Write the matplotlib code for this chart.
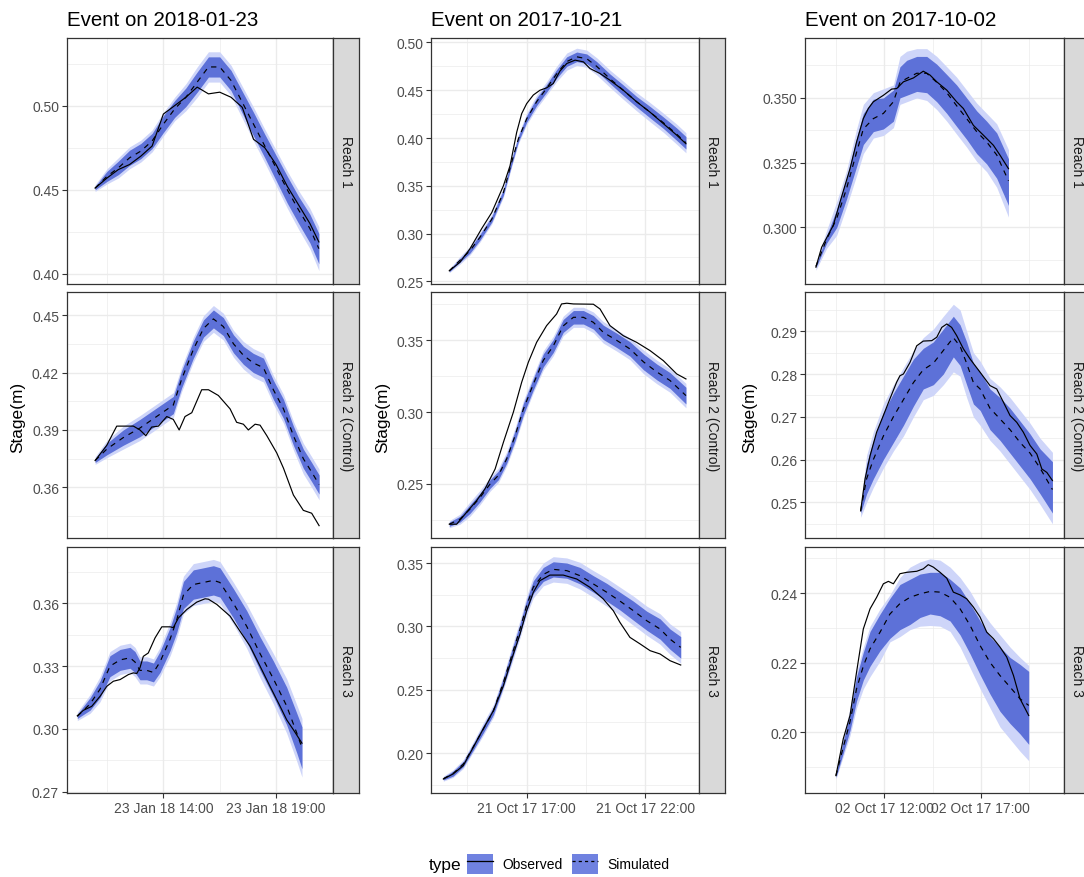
import matplotlib
matplotlib.use('Agg')
import matplotlib.pyplot as plt
import matplotlib.dates as mdates
from matplotlib.ticker import MultipleLocator, FormatStrFormatter, FixedLocator
from matplotlib.patches import Patch
from matplotlib.lines import Line2D
from matplotlib.legend_handler import HandlerTuple
import pandas as pd

plt.rcParams['font.family'] = ['Liberation Sans', 'DejaVu Sans']

# ---- event dates / facet labels ----
events = ['2018-01-23', '2017-10-21', '2017-10-02']
reaches = ['Reach 1', 'Reach 2 (Control)', 'Reach 3']
legend_labels = ['Observed', 'Simulated']

# ---- Event 2018-01-23 (times in hours of the day) ----
jan_r1_obs_h = [10.97, 11.5, 12.0, 12.5, 13.0, 13.5, 14.0, 14.5, 15.0, 15.5, 16.0, 16.5, 17.0, 17.5, 18.0, 18.5, 19.0, 19.5, 20.0, 20.5, 20.9]
jan_r1_obs = [0.451, 0.457, 0.462, 0.465, 0.470, 0.476, 0.495, 0.500, 0.505, 0.511, 0.507, 0.508, 0.505, 0.499, 0.480, 0.475, 0.465, 0.452, 0.441, 0.430, 0.419]
jan_r1_sim_h = [10.97, 11.5, 12.0, 12.5, 13.0, 13.5, 14.0, 14.5, 15.0, 15.5, 16.0, 16.5, 17.0, 17.5, 18.0, 18.5, 19.0, 19.5, 20.0, 20.5, 20.9]
jan_r1_sim = [0.451, 0.458, 0.463, 0.469, 0.473, 0.479, 0.489, 0.498, 0.505, 0.514, 0.523, 0.523, 0.515, 0.502, 0.489, 0.476, 0.463, 0.450, 0.438, 0.427, 0.415]
jan_r1_in_lo = [0.450, 0.455, 0.459, 0.4645, 0.4685, 0.4745, 0.484, 0.493, 0.4995, 0.508, 0.517, 0.517, 0.509, 0.4955, 0.482, 0.469, 0.4555, 0.442, 0.430, 0.4185, 0.406]
jan_r1_in_hi = [0.452, 0.461, 0.467, 0.4735, 0.4775, 0.4835, 0.494, 0.503, 0.5105, 0.520, 0.529, 0.529, 0.521, 0.5085, 0.496, 0.483, 0.4705, 0.458, 0.446, 0.4355, 0.424]
jan_r1_out_lo = [0.449, 0.4535, 0.457, 0.4625, 0.4665, 0.4725, 0.482, 0.491, 0.497, 0.505, 0.514, 0.514, 0.506, 0.4925, 0.479, 0.466, 0.4525, 0.439, 0.4265, 0.415, 0.402]
jan_r1_out_hi = [0.453, 0.4625, 0.469, 0.4755, 0.4795, 0.4855, 0.496, 0.505, 0.513, 0.523, 0.532, 0.532, 0.524, 0.5115, 0.499, 0.486, 0.4735, 0.461, 0.4495, 0.439, 0.428]

jan_r2_obs_h = [10.97, 11.49, 11.93, 12.67, 12.96, 13.22, 13.48, 13.78, 14.15, 14.44, 14.70, 14.96, 15.26, 15.70, 16.00, 16.44, 16.96, 17.25, 17.55, 17.77, 18.07, 18.29, 18.59, 19.03, 19.33, 19.77, 20.21, 20.58, 20.91]
jan_r2_obs = [0.374, 0.382, 0.392, 0.392, 0.390, 0.387, 0.3915, 0.392, 0.397, 0.3955, 0.390, 0.397, 0.399, 0.411, 0.411, 0.408, 0.401, 0.394, 0.393, 0.390, 0.393, 0.3925, 0.387, 0.378, 0.370, 0.356, 0.348, 0.3465, 0.340]
jan_r2_sim_h = [10.97, 11.49, 12.22, 12.96, 13.70, 14.44, 14.81, 15.33, 15.78, 16.22, 16.66, 17.11, 17.55, 17.99, 18.44, 18.88, 19.33, 19.77, 20.21, 20.58, 20.91]
jan_r2_sim = [0.374, 0.380, 0.386, 0.391, 0.397, 0.403, 0.4165, 0.432, 0.443, 0.448, 0.444, 0.435, 0.429, 0.425, 0.4225, 0.411, 0.401, 0.387, 0.375, 0.368, 0.3615]
jan_r2_in_lo = [0.373, 0.377, 0.382, 0.3865, 0.3925, 0.3985, 0.412, 0.4275, 0.4385, 0.4433, 0.4393, 0.4303, 0.4243, 0.420, 0.4175, 0.406, 0.396, 0.382, 0.370, 0.363, 0.3565]
jan_r2_in_hi = [0.375, 0.383, 0.390, 0.3955, 0.4015, 0.4075, 0.421, 0.4365, 0.4475, 0.4527, 0.4487, 0.4397, 0.4337, 0.430, 0.4275, 0.416, 0.406, 0.392, 0.380, 0.373, 0.3665]
jan_r2_out_lo = [0.372, 0.3755, 0.380, 0.3845, 0.3905, 0.3965, 0.410, 0.4255, 0.4363, 0.441, 0.437, 0.428, 0.4218, 0.4175, 0.415, 0.4035, 0.3935, 0.3795, 0.367, 0.360, 0.3535]
jan_r2_out_hi = [0.376, 0.3845, 0.392, 0.3975, 0.4035, 0.4095, 0.423, 0.4385, 0.4497, 0.455, 0.451, 0.442, 0.4362, 0.4325, 0.430, 0.4185, 0.4085, 0.3945, 0.383, 0.376, 0.3695]

jan_r3_obs_h = [10.18, 10.45, 10.82, 11.19, 11.49, 11.78, 12.08, 12.45, 12.67, 12.82, 12.96, 13.11, 13.33, 13.63, 13.93, 14.30, 14.44, 14.67, 15.04, 15.48, 15.85, 16.00, 16.37, 16.96, 17.40, 17.85, 18.29, 18.73, 19.18, 19.47, 19.77, 20.15]
jan_r3_obs = [0.3063, 0.3089, 0.3108, 0.3156, 0.3204, 0.3228, 0.3236, 0.3260, 0.3268, 0.3265, 0.3292, 0.3347, 0.3363, 0.3435, 0.3488, 0.3488, 0.3484, 0.3531, 0.3571, 0.3606, 0.3622, 0.3620, 0.3595, 0.3539, 0.3467, 0.3395, 0.3300, 0.3204, 0.3108, 0.3044, 0.2996, 0.2932]
jan_r3_sim_h = [10.18, 10.75, 11.19, 11.63, 12.08, 12.52, 12.74, 12.96, 13.26, 13.56, 13.85, 14.30, 14.59, 14.89, 15.33, 15.78, 16.22, 16.51, 17.11, 17.70, 18.29, 18.88, 19.47, 19.92, 20.15]
jan_r3_sim = [0.306, 0.312, 0.319, 0.330, 0.333, 0.334, 0.332, 0.328, 0.328, 0.327, 0.332, 0.343, 0.352, 0.364, 0.369, 0.370, 0.371, 0.370, 0.360, 0.349, 0.336, 0.324, 0.311, 0.298, 0.291]
jan_r3_in_lo = [0.305, 0.309, 0.315, 0.325, 0.328, 0.329, 0.327, 0.3235, 0.3235, 0.3225, 0.327, 0.3375, 0.346, 0.3575, 0.362, 0.363, 0.364, 0.363, 0.353, 0.3415, 0.328, 0.3155, 0.302, 0.2885, 0.281]
jan_r3_in_hi = [0.307, 0.315, 0.323, 0.335, 0.338, 0.339, 0.337, 0.3325, 0.3325, 0.3315, 0.337, 0.3485, 0.358, 0.3705, 0.376, 0.377, 0.378, 0.377, 0.367, 0.3565, 0.344, 0.3325, 0.320, 0.3075, 0.301]
jan_r3_out_lo = [0.304, 0.3075, 0.313, 0.323, 0.326, 0.327, 0.325, 0.3215, 0.3215, 0.3205, 0.325, 0.335, 0.3435, 0.355, 0.359, 0.360, 0.361, 0.360, 0.350, 0.3385, 0.3245, 0.312, 0.298, 0.2845, 0.277]
jan_r3_out_hi = [0.308, 0.3165, 0.325, 0.337, 0.340, 0.341, 0.339, 0.3345, 0.3345, 0.3335, 0.339, 0.351, 0.3605, 0.373, 0.379, 0.380, 0.381, 0.380, 0.370, 0.3595, 0.3475, 0.336, 0.324, 0.3115, 0.305]

# ---- Event 2017-10-21 ----
o21_r1_obs_h = [13.74, 14.19, 14.61, 15.10, 15.53, 16.02, 16.30, 16.58, 16.79, 17.00, 17.28, 17.56, 17.84, 18.12, 18.40, 18.69, 19.04, 19.39, 19.67, 20.09, 20.51, 21.07, 21.63, 22.20, 22.76, 23.32, 23.71]
o21_r1_obs = [0.261, 0.270, 0.284, 0.305, 0.322, 0.350, 0.371, 0.406, 0.4255, 0.436, 0.445, 0.450, 0.4525, 0.457, 0.470, 0.478, 0.4815, 0.4797, 0.4727, 0.4675, 0.4605, 0.450, 0.438, 0.427, 0.415, 0.403, 0.394]
o21_r1_sim_h = [13.74, 14.19, 14.61, 15.03, 15.53, 16.02, 16.37, 16.65, 17.00, 17.42, 17.84, 18.26, 18.69, 19.11, 19.53, 19.95, 20.51, 21.07, 21.63, 22.20, 22.76, 23.32, 23.71]
o21_r1_sim = [0.261, 0.272, 0.282, 0.296, 0.315, 0.343, 0.375, 0.399, 0.420, 0.438, 0.452, 0.467, 0.480, 0.485, 0.483, 0.475, 0.462, 0.450, 0.438, 0.427, 0.416, 0.404, 0.395]
o21_r1_in_lo = [0.260, 0.270, 0.2795, 0.293, 0.312, 0.340, 0.372, 0.396, 0.4165, 0.434, 0.448, 0.4625, 0.475, 0.480, 0.478, 0.470, 0.457, 0.4445, 0.4325, 0.421, 0.410, 0.3975, 0.3885]
o21_r1_in_hi = [0.262, 0.274, 0.2845, 0.299, 0.318, 0.346, 0.378, 0.402, 0.4235, 0.442, 0.456, 0.4715, 0.485, 0.490, 0.488, 0.480, 0.467, 0.4555, 0.4435, 0.433, 0.422, 0.4105, 0.4015]
o21_r1_out_lo = [0.259, 0.268, 0.2775, 0.291, 0.310, 0.338, 0.370, 0.394, 0.414, 0.431, 0.445, 0.459, 0.471, 0.476, 0.474, 0.466, 0.453, 0.4405, 0.4285, 0.417, 0.406, 0.3935, 0.3845]
o21_r1_out_hi = [0.263, 0.276, 0.2865, 0.301, 0.320, 0.348, 0.380, 0.404, 0.426, 0.445, 0.459, 0.475, 0.489, 0.494, 0.492, 0.484, 0.471, 0.4595, 0.4475, 0.437, 0.426, 0.4145, 0.4055]

o21_r2_obs_h = [13.74, 14.05, 14.47, 14.89, 15.24, 15.67, 16.02, 16.44, 16.79, 17.07, 17.42, 17.84, 18.26, 18.47, 18.69, 18.97, 19.81, 20.09, 20.51, 21.07, 21.63, 22.20, 22.76, 23.32, 23.71]
o21_r2_obs = [0.222, 0.222, 0.2303, 0.2384, 0.2465, 0.2604, 0.279, 0.300, 0.3208, 0.3347, 0.3486, 0.3602, 0.3683, 0.3753, 0.3758, 0.3753, 0.3751, 0.3718, 0.3602, 0.3532, 0.3486, 0.3428, 0.3358, 0.3266, 0.3231]
o21_r2_sim_h = [13.74, 14.19, 14.61, 15.03, 15.46, 15.81, 16.16, 16.51, 16.86, 17.28, 17.70, 18.12, 18.54, 18.97, 19.39, 19.81, 20.23, 20.79, 21.35, 21.92, 22.48, 23.04, 23.71]
o21_r2_sim = [0.222, 0.2255, 0.2325, 0.2405, 0.250, 0.256, 0.2675, 0.2835, 0.302, 0.3195, 0.336, 0.346, 0.360, 0.366, 0.366, 0.3625, 0.3555, 0.350, 0.344, 0.335, 0.328, 0.322, 0.3115]
o21_r2_in_lo = [0.2205, 0.2235, 0.2295, 0.2375, 0.247, 0.253, 0.2645, 0.280, 0.298, 0.3155, 0.3315, 0.3415, 0.3555, 0.3613, 0.3613, 0.3578, 0.3505, 0.345, 0.339, 0.3295, 0.3225, 0.3165, 0.3057]
o21_r2_in_hi = [0.2235, 0.2275, 0.2355, 0.2435, 0.253, 0.259, 0.2705, 0.287, 0.306, 0.3235, 0.3405, 0.3505, 0.3645, 0.3707, 0.3707, 0.3672, 0.3605, 0.355, 0.349, 0.3405, 0.3335, 0.3275, 0.3173]
o21_r2_out_lo = [0.2195, 0.222, 0.2275, 0.2355, 0.245, 0.251, 0.2625, 0.278, 0.296, 0.3135, 0.3293, 0.3392, 0.3532, 0.359, 0.359, 0.3553, 0.348, 0.3425, 0.3365, 0.3268, 0.3198, 0.3138, 0.303]
o21_r2_out_hi = [0.2245, 0.229, 0.2375, 0.2455, 0.255, 0.261, 0.2725, 0.289, 0.308, 0.3255, 0.3427, 0.3528, 0.3668, 0.373, 0.373, 0.3697, 0.363, 0.3575, 0.3515, 0.3432, 0.3362, 0.3302, 0.320]

o21_r3_obs_h = [13.49, 13.90, 14.33, 14.75, 15.17, 15.60, 16.02, 16.37, 16.72, 17.00, 17.28, 17.56, 17.98, 18.54, 19.11, 19.67, 20.23, 20.65, 20.93, 21.35, 21.78, 22.20, 22.62, 23.04, 23.49]
o21_r3_obs = [0.1797, 0.1837, 0.1903, 0.2047, 0.2192, 0.2336, 0.2533, 0.2743, 0.294, 0.3124, 0.3269, 0.3361, 0.3405, 0.3405, 0.3374, 0.3308, 0.3216, 0.3124, 0.3032, 0.2914, 0.2862, 0.2809, 0.2783, 0.2730, 0.2696]
o21_r3_sim_h = [13.49, 13.90, 14.33, 14.75, 15.17, 15.60, 16.02, 16.37, 16.72, 17.00, 17.28, 17.70, 18.12, 18.69, 19.25, 19.81, 20.37, 20.93, 21.49, 22.06, 22.62, 23.04, 23.49]
o21_r3_sim = [0.180, 0.184, 0.1915, 0.205, 0.219, 0.2335, 0.256, 0.277, 0.298, 0.3165, 0.331, 0.341, 0.345, 0.344, 0.340, 0.3335, 0.327, 0.320, 0.3125, 0.3045, 0.298, 0.290, 0.2835]
o21_r3_in_lo = [0.179, 0.182, 0.1895, 0.2025, 0.216, 0.2305, 0.2525, 0.273, 0.294, 0.312, 0.326, 0.3355, 0.339, 0.338, 0.3335, 0.327, 0.320, 0.313, 0.305, 0.297, 0.290, 0.282, 0.275]
o21_r3_in_hi = [0.181, 0.186, 0.1935, 0.2075, 0.222, 0.2365, 0.2595, 0.281, 0.302, 0.321, 0.336, 0.3465, 0.351, 0.350, 0.3465, 0.340, 0.334, 0.327, 0.320, 0.312, 0.306, 0.298, 0.292]
o21_r3_out_lo = [0.178, 0.181, 0.188, 0.201, 0.214, 0.2285, 0.2505, 0.2705, 0.291, 0.309, 0.3225, 0.332, 0.335, 0.334, 0.3295, 0.323, 0.316, 0.309, 0.301, 0.293, 0.286, 0.278, 0.271]
o21_r3_out_hi = [0.182, 0.187, 0.195, 0.209, 0.224, 0.2385, 0.2615, 0.2835, 0.305, 0.324, 0.3395, 0.350, 0.355, 0.354, 0.3505, 0.344, 0.338, 0.331, 0.324, 0.316, 0.310, 0.302, 0.296]

# ---- Event 2017-10-02 ----
o02_r1_obs_h = [8.45, 8.75, 9.35, 9.70, 10.22, 10.56, 10.91, 11.17, 11.43, 11.95, 12.38, 12.64, 12.99, 13.51, 14.02, 14.37, 14.72, 15.24, 15.75, 16.10, 16.62, 17.14, 17.66, 18.01, 18.44]
o02_r1_obs = [0.2847, 0.2924, 0.3008, 0.3098, 0.3227, 0.333, 0.342, 0.3459, 0.3485, 0.351, 0.3534, 0.3536, 0.3562, 0.3577, 0.3603, 0.3588, 0.3562, 0.353, 0.3485, 0.3459, 0.3394, 0.3356, 0.3317, 0.3278, 0.3227]
o02_r1_sim_h = [8.45, 9.01, 9.53, 10.04, 10.56, 10.91, 11.43, 11.95, 12.47, 12.81, 13.16, 13.68, 14.20, 14.72, 15.24, 15.75, 16.27, 16.79, 17.31, 17.83, 18.44]
o02_r1_sim = [0.285, 0.2955, 0.3035, 0.315, 0.329, 0.338, 0.342, 0.344, 0.3485, 0.356, 0.3575, 0.3595, 0.3595, 0.356, 0.352, 0.347, 0.342, 0.337, 0.333, 0.328, 0.318]
o02_r1_in_lo = [0.2845, 0.294, 0.300, 0.311, 0.3235, 0.332, 0.337, 0.338, 0.341, 0.350, 0.351, 0.3525, 0.352, 0.3485, 0.344, 0.339, 0.334, 0.3285, 0.3245, 0.319, 0.3085]
o02_r1_in_hi = [0.2855, 0.297, 0.307, 0.319, 0.3345, 0.344, 0.3495, 0.350, 0.353, 0.362, 0.3645, 0.366, 0.366, 0.363, 0.359, 0.355, 0.350, 0.345, 0.341, 0.3365, 0.3265]
o02_r1_out_lo = [0.2835, 0.292, 0.297, 0.308, 0.320, 0.3285, 0.3345, 0.3355, 0.3385, 0.3475, 0.3485, 0.350, 0.349, 0.3455, 0.341, 0.336, 0.331, 0.3255, 0.3215, 0.3155, 0.304]
o02_r1_out_hi = [0.2865, 0.299, 0.310, 0.322, 0.338, 0.3475, 0.352, 0.3535, 0.355, 0.366, 0.368, 0.369, 0.369, 0.366, 0.362, 0.358, 0.353, 0.348, 0.344, 0.340, 0.330]

o02_r2_obs_h = [10.77, 11.00, 11.26, 11.60, 11.95, 12.29, 12.64, 12.81, 12.99, 13.33, 13.68, 14.02, 14.46, 14.72, 14.98, 15.24, 15.49, 15.75, 16.10, 16.45, 16.97, 17.48, 17.83, 18.18, 18.52, 18.87, 19.21, 19.56, 19.91, 20.17, 20.43, 20.72]
o02_r2_obs = [0.248, 0.2555, 0.2609, 0.2664, 0.2703, 0.2742, 0.2781, 0.2796, 0.280, 0.2827, 0.2866, 0.2877, 0.2878, 0.2886, 0.2909, 0.2917, 0.2909, 0.289, 0.2859, 0.2835, 0.2804, 0.2773, 0.2765, 0.2734, 0.2703, 0.2687, 0.2664, 0.2633, 0.2613, 0.2578, 0.257, 0.2551]
o02_r2_sim_h = [10.77, 11.08, 11.43, 11.95, 12.47, 12.99, 13.51, 14.02, 14.54, 15.06, 15.58, 15.93, 16.27, 16.62, 16.97, 17.48, 18.00, 18.52, 19.04, 19.56, 20.08, 20.72]
o02_r2_sim = [0.248, 0.2555, 0.260, 0.2655, 0.270, 0.274, 0.278, 0.281, 0.2825, 0.2855, 0.2885, 0.2865, 0.2825, 0.278, 0.2765, 0.272, 0.2695, 0.267, 0.264, 0.2615, 0.258, 0.253]
o02_r2_in_lo = [0.2475, 0.252, 0.2555, 0.260, 0.264, 0.268, 0.2725, 0.2765, 0.2775, 0.280, 0.284, 0.282, 0.2775, 0.273, 0.2715, 0.267, 0.2645, 0.2615, 0.2585, 0.2555, 0.252, 0.2475]
o02_r2_in_hi = [0.2485, 0.259, 0.2645, 0.271, 0.2755, 0.2795, 0.2835, 0.286, 0.2875, 0.2905, 0.2935, 0.2915, 0.2875, 0.2825, 0.2805, 0.2765, 0.2745, 0.272, 0.269, 0.266, 0.2625, 0.2595]
o02_r2_out_lo = [0.2465, 0.250, 0.2535, 0.258, 0.262, 0.2655, 0.270, 0.274, 0.275, 0.2775, 0.2805, 0.2795, 0.2745, 0.270, 0.268, 0.2645, 0.262, 0.259, 0.256, 0.253, 0.2495, 0.245]
o02_r2_out_hi = [0.2495, 0.261, 0.2665, 0.273, 0.2775, 0.2815, 0.2855, 0.2885, 0.2905, 0.2935, 0.2963, 0.295, 0.290, 0.285, 0.283, 0.279, 0.277, 0.2745, 0.2715, 0.2685, 0.265, 0.2617]

o02_r3_obs_h = [9.49, 9.87, 10.22, 10.56, 10.91, 11.26, 11.60, 11.95, 12.21, 12.47, 12.81, 13.16, 13.68, 14.02, 14.28, 14.54, 14.89, 15.24, 15.58, 15.93, 16.27, 16.62, 16.97, 17.31, 17.66, 18.00, 18.35, 18.70, 19.04, 19.49]
o02_r3_obs = [0.1875, 0.1981, 0.2048, 0.2173, 0.2297, 0.2355, 0.2388, 0.2427, 0.2434, 0.2427, 0.2456, 0.246, 0.2463, 0.247, 0.2482, 0.2475, 0.246, 0.2443, 0.2403, 0.2395, 0.2384, 0.236, 0.2331, 0.2288, 0.2269, 0.2245, 0.2216, 0.2163, 0.2096, 0.2048]
o02_r3_sim_h = [9.49, 9.87, 10.22, 10.56, 10.91, 11.26, 11.78, 12.29, 12.81, 13.33, 13.85, 14.37, 14.89, 15.41, 15.93, 16.45, 16.97, 17.48, 18.00, 18.52, 19.04, 19.49]
o02_r3_sim = [0.1875, 0.1957, 0.203, 0.2125, 0.219, 0.224, 0.2288, 0.234, 0.237, 0.2388, 0.2398, 0.2405, 0.2403, 0.2388, 0.2355, 0.2307, 0.2249, 0.2201, 0.2163, 0.213, 0.2096, 0.2077]
o02_r3_in_lo = [0.187, 0.194, 0.2005, 0.209, 0.215, 0.219, 0.2235, 0.227, 0.2295, 0.231, 0.233, 0.234, 0.2335, 0.232, 0.228, 0.2225, 0.2165, 0.211, 0.206, 0.2025, 0.1995, 0.1965]
o02_r3_in_hi = [0.188, 0.1975, 0.2055, 0.216, 0.223, 0.229, 0.234, 0.2385, 0.2425, 0.244, 0.2455, 0.246, 0.246, 0.244, 0.2415, 0.237, 0.232, 0.2275, 0.2245, 0.2215, 0.2195, 0.2175]
o02_r3_out_lo = [0.1865, 0.193, 0.199, 0.207, 0.2125, 0.216, 0.2205, 0.226, 0.2275, 0.2295, 0.2305, 0.2307, 0.2305, 0.229, 0.2245, 0.2185, 0.2125, 0.207, 0.2015, 0.198, 0.1945, 0.1918]
o02_r3_out_hi = [0.1885, 0.1985, 0.207, 0.2175, 0.2245, 0.2305, 0.2355, 0.2395, 0.2445, 0.2475, 0.249, 0.2499, 0.2495, 0.2475, 0.2445, 0.2405, 0.2355, 0.2315, 0.228, 0.2245, 0.2215, 0.2192]

# axis breaks (hours) and limits
x_break_h = [[14, 19], [17, 22], [12, 17]]
x_lim_h = [(9.71, 21.54), (12.97, 24.26), (7.885, 21.32)]
y_lims = [[(0.394, 0.5405), (0.3334, 0.4619), (0.2694, 0.3868)],
          [(0.2472, 0.5052), (0.2122, 0.3834), (0.1687, 0.3624)],
          [(0.2782, 0.3733), (0.2416, 0.2991), (0.1825, 0.2532)]]
y_steps = [[0.05, 0.03, 0.03], [0.05, 0.05, 0.05], [0.025, 0.01, 0.02]]
y_fmts = [['%.2f', '%.2f', '%.2f'], ['%.2f', '%.2f', '%.2f'], ['%.3f', '%.2f', '%.2f']]

panels = [
    [(jan_r1_obs_h, jan_r1_obs, jan_r1_sim_h, jan_r1_sim, jan_r1_in_lo, jan_r1_in_hi, jan_r1_out_lo, jan_r1_out_hi),
     (jan_r2_obs_h, jan_r2_obs, jan_r2_sim_h, jan_r2_sim, jan_r2_in_lo, jan_r2_in_hi, jan_r2_out_lo, jan_r2_out_hi),
     (jan_r3_obs_h, jan_r3_obs, jan_r3_sim_h, jan_r3_sim, jan_r3_in_lo, jan_r3_in_hi, jan_r3_out_lo, jan_r3_out_hi)],
    [(o21_r1_obs_h, o21_r1_obs, o21_r1_sim_h, o21_r1_sim, o21_r1_in_lo, o21_r1_in_hi, o21_r1_out_lo, o21_r1_out_hi),
     (o21_r2_obs_h, o21_r2_obs, o21_r2_sim_h, o21_r2_sim, o21_r2_in_lo, o21_r2_in_hi, o21_r2_out_lo, o21_r2_out_hi),
     (o21_r3_obs_h, o21_r3_obs, o21_r3_sim_h, o21_r3_sim, o21_r3_in_lo, o21_r3_in_hi, o21_r3_out_lo, o21_r3_out_hi)],
    [(o02_r1_obs_h, o02_r1_obs, o02_r1_sim_h, o02_r1_sim, o02_r1_in_lo, o02_r1_in_hi, o02_r1_out_lo, o02_r1_out_hi),
     (o02_r2_obs_h, o02_r2_obs, o02_r2_sim_h, o02_r2_sim, o02_r2_in_lo, o02_r2_in_hi, o02_r2_out_lo, o02_r2_out_hi),
     (o02_r3_obs_h, o02_r3_obs, o02_r3_sim_h, o02_r3_sim, o02_r3_in_lo, o02_r3_in_hi, o02_r3_out_lo, o02_r3_out_hi)],
]

DARK = '#5D71D8'
LIGHT = '#CED5F9'
KEY = '#7082E0'

W, H = 1084, 878
fig = plt.figure(figsize=(W / 100, H / 100), dpi=100)


def px_axes(x0, y0, x1, y1):
    return fig.add_axes([x0 / W, 1 - y1 / H, (x1 - x0) / W, (y1 - y0) / H])


def to_time(day, hours):
    return (pd.Timestamp(day) + pd.to_timedelta(hours, unit='h')).to_numpy()


col_x = [(66.7, 333.3), (431, 699), (805, 1064)]
row_y = [(38.5, 285), (293.3, 539.3), (548.3, 794)]
strip_w = 26

for c, day in enumerate(events):
    x0, x1 = col_x[c]
    xmin = mdates.date2num(pd.Timestamp(day) + pd.Timedelta(hours=x_lim_h[c][0]))
    xmax = mdates.date2num(pd.Timestamp(day) + pd.Timedelta(hours=x_lim_h[c][1]))
    major = [mdates.date2num(pd.Timestamp(day) + pd.Timedelta(hours=h)) for h in x_break_h[c]]
    step = major[1] - major[0]
    minor = [major[0] - step / 2, major[0] + step / 2, major[1] + step / 2]

    for r in range(3):
        y0, y1 = row_y[r]
        ax = px_axes(x0, y0, x1, y1)
        obs_h, obs, sim_h, sim, in_lo, in_hi, out_lo, out_hi = panels[c][r]
        ts = to_time(day, sim_h)
        to = to_time(day, obs_h)
        ax.fill_between(ts, out_lo, out_hi, color=LIGHT, lw=0)
        ax.fill_between(ts, in_lo, in_hi, color=DARK, lw=0)
        ax.plot(to, obs, color='black', lw=0.85)
        ax.plot(ts, sim, color='black', lw=0.85, ls=(0, (4.5, 4.5)))

        ax.set_xlim(xmin, xmax)
        ax.set_ylim(y_lims[c][r])
        ax.xaxis.set_major_locator(FixedLocator(major))
        ax.xaxis.set_minor_locator(FixedLocator(minor))
        ax.xaxis.set_major_formatter(mdates.DateFormatter('%d %b %y %H:%M'))
        ax.yaxis.set_major_locator(MultipleLocator(y_steps[c][r]))
        ax.yaxis.set_minor_locator(MultipleLocator(y_steps[c][r] / 2))
        ax.yaxis.set_major_formatter(FormatStrFormatter(y_fmts[c][r]))
        ax.set_axisbelow(True)
        ax.grid(which='major', color='#EBEBEB', lw=1.0)
        ax.grid(which='minor', color='#EBEBEB', lw=0.5)
        ax.tick_params(which='minor', length=0)
        ax.tick_params(which='major', length=3.5, width=0.8, color='#333333',
                       labelcolor='#4D4D4D', labelsize=10, pad=2)
        if r < 2:
            ax.tick_params(axis='x', which='both', bottom=False, labelbottom=False)
        for s in ax.spines.values():
            s.set_color('#333333')
            s.set_linewidth(0.9)

        # facet strip on the right
        sx = px_axes(x1, y0, x1 + strip_w, y1)
        sx.set_facecolor('#D9D9D9')
        sx.set_xticks([])
        sx.set_yticks([])
        for s in sx.spines.values():
            s.set_color('#333333')
            s.set_linewidth(0.9)
        sx.text(0.5, 0.5, reaches[r], rotation=270, ha='center', va='center',
                transform=sx.transAxes, fontsize=10, color='#1A1A1A')

    fig.text(x0 / W, 1 - 26.5 / H, 'Event on ' + day, fontsize=14.8, ha='left', va='baseline')

for xl in [18, 383, 750]:
    fig.text(xl / W, 1 - 417 / H, 'Stage(m)', rotation=90, ha='center', va='center', fontsize=12.4)

# legend at the bottom
fig.text(429 / W, 1 - 866 / H, 'type', fontsize=12.4, ha='left', va='center')
handles = [(Patch(facecolor=KEY, edgecolor='none'), Line2D([], [], color='black', lw=0.9)),
           (Patch(facecolor=KEY, edgecolor='none'), Line2D([], [], color='black', lw=0.9, ls=(0, (2.5, 2.5))))]
fig.legend(handles, legend_labels, ncol=2, loc='center left', bbox_to_anchor=(467 / W, 1 - 865 / H),
           frameon=False, borderpad=0, borderaxespad=0, handlelength=1.87, handleheight=1.8,
           handletextpad=0.7, columnspacing=0.65, fontsize=10,
           handler_map={tuple: HandlerTuple(ndivide=1)})

fig.savefig('out.png', dpi=100)
